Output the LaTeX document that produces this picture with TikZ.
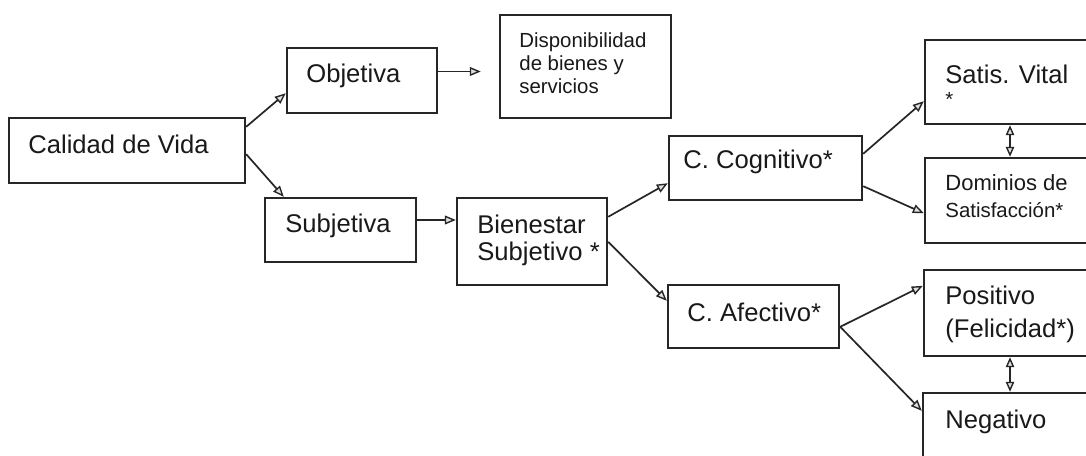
\documentclass[tikz,border=0pt]{standalone}
\usepackage{fontspec}
\setmainfont{Liberation Sans}
\usetikzlibrary{arrows.meta,calc}
\begin{document}
\begin{tikzpicture}[x=0.5pt,y=-0.5pt,
 box/.style={draw=black!85, line width=1.2pt, rectangle, inner sep=0pt},
 txt/.style={anchor=base west, inner sep=0pt, text=black!90, font=\fontsize{12.8pt}{15pt}\selectfont},
 smalltxt/.style={txt, font=\fontsize{10.2pt}{12pt}\selectfont},
 midtxt/.style={txt, font=\fontsize{11pt}{13pt}\selectfont},
 arr/.style={draw=black!85, line width=0.85pt, -{Triangle[length=5.5pt,width=4.4pt,fill=black!12,line width=0.7pt]}},
 dbl/.style={draw=black!85, line width=0.85pt, {Triangle[length=5pt,width=4.2pt,fill=black!12,line width=0.7pt]}-{Triangle[length=5pt,width=4.2pt,fill=black!12,line width=0.7pt]}}]
\useasboundingbox (0,0) rectangle (1086,455);
\clip (0,0) rectangle (1086,455);
\fill[white] (0,0) rectangle (1086,455);

% boxes
\node[box, minimum width=118pt, minimum height=32.5pt] (cv) at (127,150.5) {};
\node[box, minimum width=75pt, minimum height=32.5pt] (obj) at (362,80.5) {};
\node[box, minimum width=85.5pt, minimum height=51.5pt] (disp) at (585.5,66.5) {};
\node[box, minimum width=75.5pt, minimum height=32pt] (subj) at (340.5,230) {};
\node[box, minimum width=75pt, minimum height=43.5pt] (bien) at (532,241.5) {};
\node[box, minimum width=96.5pt, minimum height=32pt] (cog) at (765.5,168) {};
\node[box, minimum width=85.5pt, minimum height=31.5pt] (afe) at (753.5,316.5) {};
\node[box, minimum width=92.5pt, minimum height=42pt] (satis) at (1017.5,82) {};
\node[box, minimum width=92.5pt, minimum height=42.5pt] (dom) at (1017.5,200.5) {};
\node[box, minimum width=93pt, minimum height=43pt] (pos) at (1017,313) {};
\node[box, minimum width=93.5pt, minimum height=43.5pt] (neg) at (1016.5,436.5) {};

% texts
\node[txt] (tcv) at (28,153) {Calidad de Vida};
\node[txt] (tobj) at (306,82) {Objetiva};
\node[smalltxt] (td1) at (519,47) {Disponibilidad};
\node[smalltxt] (td2) at (519,70) {de bienes y};
\node[smalltxt] (td3) at (519,93) {servicios};
\node[txt] (tsubj) at (285,232) {Subjetiva};
\node[txt] (tb1) at (477,233) {Bienestar};
\node[txt] (tb2) at (477,260) {Subjetivo *};
\node[txt] (tcog) at (683,168) {C. Cognitivo*};
\node[txt] (tafe) at (687,321) {C. Afectivo*};
\node[txt] (ts1) at (945,83) {Satis. Vital};
\node[smalltxt] (ts2) at (945,106) {*};
\node[midtxt] (tdo1) at (945,190) {Dominios de};
\node[smalltxt] (tdo2) at (945,217) {Satisfacción*};
\node[txt] (tp1) at (945,304) {Positivo};
\node[txt] (tp2) at (945,337) {(Felicidad*)};
\node[txt] (tn) at (945,428) {Negativo};

% connectors
\draw[arr] ($(cv.north east)+(0,10)$) -- ($(obj.south west)+(0,-21)$);
\draw[arr] ($(cv.south east)+(0,-30)$) -- ($(subj.north west)+(20,0)$);
\coordinate (o1) at ($(obj.east)+(0,-9)$);
\draw[arr, shorten >=9pt] (o1) -- (o1 -| disp.west);
\coordinate (s1) at ($(subj.east)+(0,-10)$);
\draw[arr] (s1) -- (s1 -| bien.west);
\draw[arr] ($(bien.north east)+(0,20)$) -- ($(cog.south west)+(0,-18)$);
\draw[arr] ($(bien.north east)+(0,45)$) -- ($(afe.north west)+(0,17)$);
\draw[arr] ($(cog.north east)+(0,19)$) -- ($(satis.south west)+(0,-24)$);
\draw[arr] ($(cog.south east)+(0,-15)$) -- ($(dom.south west)+(0,-31)$);
\draw[arr] ($(afe.north east)+(0,43)$) -- ($(pos.north west)+(0,17)$);
\draw[arr] ($(afe.north east)+(0,43)$) -- ($(neg.north west)+(0,19)$);
\coordinate (dx) at (1010,0);
\draw[dbl] (satis.south -| dx) -- (dom.north -| dx);
\draw[dbl] (pos.south -| dx) -- (neg.north -| dx);
\end{tikzpicture}
\end{document}
